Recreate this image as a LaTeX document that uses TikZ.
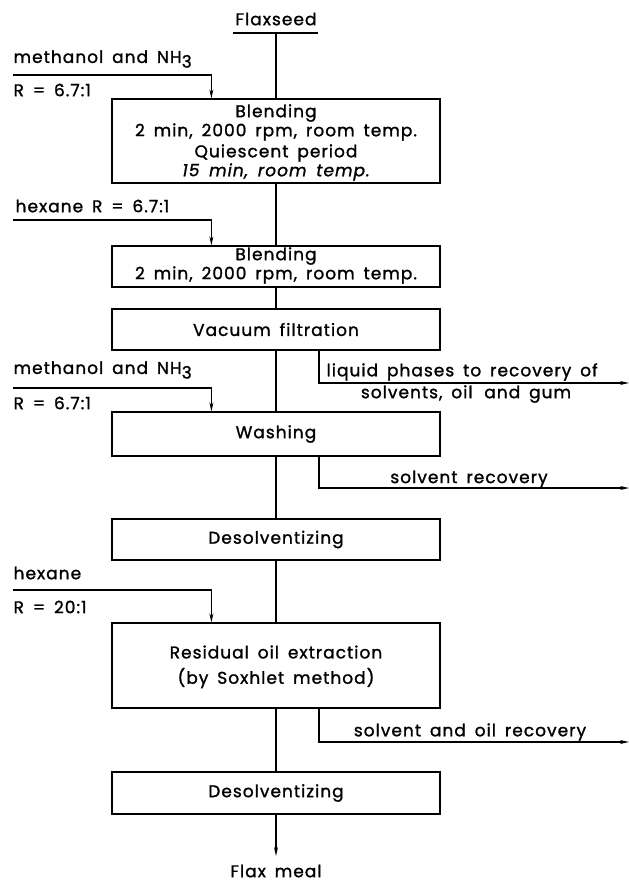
\documentclass[tikz,border=0pt]{standalone}
\usepackage{fontspec}
\newfontfamily\plotfont[LetterSpace=6,WordSpace=1.6,FakeBold=1.3]{Poppins}
\usetikzlibrary{arrows.meta,calc}
\begin{document}
\begin{tikzpicture}[x=1pt,y=-1pt,
  line width=1.2pt,
  font=\plotfont\fontsize{17}{20}\selectfont,
  every node/.style={inner sep=0pt},
  procbox/.style={draw,minimum width=328pt,align=center},
  lbl/.style={anchor=west},
  arr/.style={-{Stealth[length=9pt,width=4pt]}}]
\useasboundingbox (0,0) rectangle (629,884);
\newcommand{\subthree}{\raisebox{-0.5ex}{3}}
% boxes
\node[procbox,minimum height=84pt] (b1) at (276,141) {};
\node at (276,113) {Blending};
\node at (276,132) {2 min, 2000 rpm, room temp.};
\node at (276,153) {Quiescent period};
\node at (276,172) {\itshape 15 min, room temp.};
\node[procbox,minimum height=41pt] (b2) at (276,266.5) {};
\node at (276,256) {Blending};
\node at (276,275) {2 min, 2000 rpm, room temp.};
\node[procbox,minimum height=41pt] (b3) at (276,329.5) {Vacuum filtration};
\node[procbox,minimum height=44pt] (b4) at (276,434) {Washing};
\node[procbox,minimum height=41pt] (b5) at (276,539.5) {Desolventizing};
\node[procbox,minimum height=85pt] (b6) at (276,665.5) {};
\node at (276,652) {Residual oil extraction};
\node at (276,678) {(by Soxhlet method)};
\node[procbox,minimum height=42pt] (b7) at (276,793) {Desolventizing};
% top and bottom
\node (seed) at (276,19) {Flaxseed};
\coordinate (sl) at (233,33);
\coordinate (sr) at (318,33);
\coordinate (sm) at (276,33);
\draw (sl) -- (sr);
\draw (sm) -- (b1.north);
\node (meal) at (276,871) {Flax meal};
\coordinate (tip) at (276,856);
\draw[arr] (b7.south) -- (tip);
% main line
\draw (b1.south) -- (b2.north);
\draw (b2.south) -- (b3.north);
\draw (b3.south) -- (b4.north);
\draw (b4.south) -- (b5.north);
\draw (b5.south) -- (b6.north);
\draw (b6.south) -- (b7.north);
% inputs
\node[lbl] (m1) at (13,59) {methanol and NH\subthree};
\node[lbl] (r1) at (13,90) {R = 6.7:1};
\coordinate (i1) at (13,75);
\draw[arr] (i1) -| ([xshift=100pt]b1.north west);
\node[lbl] (h1) at (15,206) {hexane R = 6.7:1};
\coordinate (i2) at (13,220);
\draw[arr] (i2) -| ([xshift=100pt]b2.north west);
\node[lbl] (m2) at (13,370) {methanol and NH\subthree};
\node[lbl] (r2) at (13,403) {R = 6.7:1};
\coordinate (i3) at (13,388);
\draw[arr] (i3) -| ([xshift=100pt]b4.north west);
\node[lbl] (h2) at (13,573) {hexane};
\node[lbl] (r3) at (13,607) {R = 20:1};
\coordinate (i4) at (13,590);
\draw[arr] (i4) -| ([xshift=100pt]b6.north west);
% outputs
\coordinate (o1) at (629,383);
\draw[arr] ([xshift=43pt]b3.south) |- (o1);
\node[lbl] (t1) at (326,372) {liquid phases to recovery of};
\node (t2) at (466,394) {solvents, oil\, and gum};
\coordinate (o2) at (629,488);
\draw[arr] ([xshift=43pt]b4.south) |- (o2);
\node (t3) at (469,479) {solvent recovery};
\coordinate (o3) at (629,742);
\draw[arr] ([xshift=43pt]b6.south) |- (o3);
\node (t4) at (470,732) {solvent and oil recovery};
\end{tikzpicture}
\end{document}
